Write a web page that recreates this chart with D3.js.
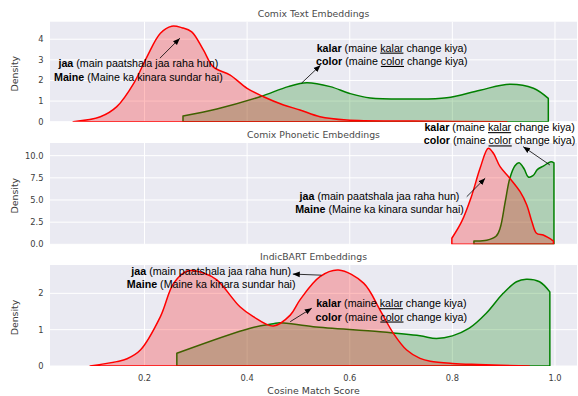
<!DOCTYPE html>
<html><head><meta charset="utf-8">
<script src="https://cdn.jsdelivr.net/npm/d3@7"></script>
<style>body{margin:0;background:#fff} svg{display:block}</style>
</head><body><svg id="c" width="578" height="396"></svg>
<script>
// ---------- data ----------
const panelTitles = ["Comix Text Embeddings", "Comix Phonetic Embeddings", "IndicBART Embeddings"];
const xTicks = [0.2, 0.4, 0.6, 0.8, 1.0];
const yTicksText = [0, 1, 2, 3, 4];
const yTicksPhonetic = [0, 2.5, 5.0, 7.5, 10.0];
const yTicksBart = [0, 1, 2];
const yMax = [4.85, 11.43, 2.78];

// Comix Text: red = jaa / Maine, green = kalar / color
const textRedX = [0.061, 0.114, 0.146, 0.179, 0.205, 0.231, 0.253, 0.273, 0.292, 0.315, 0.334, 0.367, 0.400, 0.432, 0.471, 0.503, 0.542, 0.594, 0.723, 0.906];
const textRedY = [0, 0.24, 0.73, 1.86, 3.16, 4.29, 4.63, 4.56, 4.36, 3.47, 2.66, 2.26, 1.62, 1.21, 0.81, 0.57, 0.24, 0.08, 0.03, 0];
const textGreenX = [0.275, 0.341, 0.425, 0.480, 0.516, 0.562, 0.600, 0.640, 0.724, 0.789, 0.854, 0.912, 0.958, 0.987];
const textGreenY = [0.28, 0.62, 1.21, 1.70, 1.89, 1.70, 1.37, 1.15, 1.10, 1.16, 1.53, 1.82, 1.62, 1.13];

// Comix Phonetic
const phonRedX = [0.799, 0.818, 0.837, 0.854, 0.870, 0.880, 0.893, 0.912, 0.932, 0.945, 0.955, 0.964, 0.977, 0.987, 0.997];
const phonRedY = [0.68, 2.55, 5.37, 8.58, 10.83, 10.27, 8.76, 7.45, 5.94, 4.44, 2.55, 1.24, 1.05, 0.75, 0.37];
const phonGreenX = [0.842, 0.867, 0.885, 0.893, 0.903, 0.912, 0.922, 0.930, 0.940, 0.948, 0.957, 0.966, 0.978, 0.992, 0.998];
const phonGreenY = [0.37, 0.45, 0.90, 1.80, 4.80, 7.45, 8.87, 9.20, 8.50, 7.60, 7.75, 8.45, 8.85, 9.32, 9.20];

// IndicBART
const bartRedX = [0.094, 0.146, 0.166, 0.192, 0.231, 0.257, 0.285, 0.315, 0.341, 0.386, 0.412, 0.451, 0.484, 0.503, 0.542, 0.578, 0.627, 0.659, 0.685, 0.711, 0.737, 0.757, 0.800, 0.850, 0.950];
const bartRedY = [0, 0.12, 0.20, 0.44, 1.36, 2.28, 2.62, 2.56, 2.37, 1.63, 1.36, 1.10, 1.40, 1.82, 2.46, 2.64, 2.28, 1.54, 0.90, 0.44, 0.21, 0.13, 0.07, 0.04, 0];
const bartGreenX = [0.263, 0.406, 0.451, 0.464, 0.529, 0.659, 0.737, 0.769, 0.800, 0.833, 0.866, 0.899, 0.925, 0.944, 0.970, 0.990];
const bartGreenY = [0.35, 1.04, 1.16, 1.19, 1.08, 0.94, 0.83, 0.76, 0.83, 1.04, 1.45, 2.00, 2.32, 2.39, 2.32, 2.04];

const jaaLines = [["jaa", " (main paatshala jaa raha hun)", ""], ["Maine", " (Maine ka kinara sundar hai)", ""]];
const kalarLines = [["kalar", " (maine ", "kalar", " change kiya)"], ["color", " (maine ", "color", " change kiya)"]];

// annotation anchors (data coords): [blockX, blockY, tailX, tailY, headX, headY]
const annText = { jaa: [0.188, 2.50, 0.230, 3.08, 0.269, 4.05], kalar: [0.682, 3.26, 0.506, 1.87, 0.543, 2.74] };
const annPhon = { jaa: [0.658, 4.66, 0.828, 5.37, 0.864, 7.45], kalar: [0.892, 12.45, 0.990, 8.95, 0.938, 11.02] };
const annBart = { jaa: [0.330, 2.44, 0.545, 2.50, 0.489, 2.53], kalar: [0.681, 1.54, 0.484, 1.22, 0.526, 1.59] };

// ---------- layout ----------
const svg = d3.select("#c");
const left = 50, right = 577;
const panels = [
  {top: 21.7, bottom: 121.7, ticks: yTicksText, fmt: d3.format("d"), red: [textRedX, textRedY], green: [textGreenX, textGreenY], ann: annText},
  {top: 143, bottom: 244.3, ticks: yTicksPhonetic, fmt: d3.format(".1f"), red: [phonRedX, phonRedY], green: [phonGreenX, phonGreenY], ann: annPhon},
  {top: 265, bottom: 366, ticks: yTicksBart, fmt: d3.format("d"), red: [bartRedX, bartRedY], green: [bartGreenX, bartGreenY], ann: annBart}
];
const x = d3.scaleLinear().domain([0.0158, 1.0429]).range([left, right]);

const defs = svg.append("defs");
defs.append("marker").attr("id", "ah").attr("viewBox", "0 0 10 10").attr("refX", 10).attr("refY", 5)
  .attr("markerWidth", 7).attr("markerHeight", 7).attr("markerUnits", "userSpaceOnUse").attr("orient", "auto")
  .append("path").attr("d", "M0,1 L10,5 L0,9 Z").attr("fill", "#000");

const tickColor = "#3d3d3d";
const sans = "'DejaVu Sans', sans-serif";
const arial = "'Liberation Sans', Arial, sans-serif";

panels.forEach((p, i) => {
  const y = d3.scaleLinear().domain([0, yMax[i]]).range([p.bottom, p.top]);
  const g = svg.append("g");
  g.append("rect").attr("x", left).attr("y", p.top).attr("width", right - left).attr("height", p.bottom - p.top).attr("fill", "#EAEAF2");
  defs.append("clipPath").attr("id", "clip" + i).append("rect")
    .attr("x", left).attr("y", p.top).attr("width", right - left).attr("height", p.bottom - p.top);
  // grid
  g.selectAll(".vg").data(xTicks).join("line").attr("x1", d => x(d)).attr("x2", d => x(d))
    .attr("y1", p.top).attr("y2", p.bottom).attr("stroke", "#fff").attr("stroke-width", 1);
  g.selectAll(".hg").data(p.ticks).join("line").attr("x1", left).attr("x2", right)
    .attr("y1", d => y(d)).attr("y2", d => y(d)).attr("stroke", "#fff").attr("stroke-width", 1);
  // y tick labels
  g.selectAll(".yl").data(p.ticks).join("text").attr("x", 43.5).attr("y", d => y(d) + 3)
    .attr("text-anchor", "end").attr("font-family", sans).attr("font-size", 8.3).attr("fill", tickColor)
    .text(d => p.fmt(d));
  // y label
  g.append("text").attr("transform", `translate(17.5,${(p.top + p.bottom) / 2 + 2}) rotate(-90)`)
    .attr("text-anchor", "middle").attr("font-family", sans).attr("font-size", 9.4).attr("fill", tickColor).text("Density");
  // title
  g.append("text").attr("x", (left + right) / 2).attr("y", p.top - 5).attr("text-anchor", "middle")
    .attr("font-family", sans).attr("font-size", 9.3).attr("fill", "#4a4a4a").text(panelTitles[i]);

  // densities
  const line = d3.line().x(d => x(d[0])).y(d => y(d[1])).curve(d3.curveCatmullRom.alpha(0.5));
  const closedPath = (xs, ys) => {
    const pts = xs.map((v, k) => [v, ys[k]]);
    const base = y(0);
    return line(pts) + `L${x(xs[xs.length - 1])},${base}L${x(xs[0])},${base}Z`;
  };
  const cg = g.append("g").attr("clip-path", `url(#clip${i})`);
  [[p.green, "#008000"], [p.red, "#ff0000"]].forEach(([s, col]) => {
    const d = closedPath(s[0], s[1]);
    cg.append("path").attr("d", d).attr("fill", col).attr("fill-opacity", 0.25).attr("stroke", "none");
    cg.append("path").attr("d", d).attr("fill", "none").attr("stroke", col).attr("stroke-width", 1.5).attr("stroke-linejoin", "round");
  });

  // annotations
  const drawBlock = (a, lines) => {
    const cx = x(a[0]), cy = y(a[1]);
    lines.forEach((ln, k) => {
      const t = g.append("text").attr("x", cx).attr("y", cy + (k === 0 ? -6.65 : 6.65) + 3.8)
        .attr("text-anchor", "middle").attr("font-family", arial).attr("font-size", 10.7).attr("fill", "#000");
      t.append("tspan").attr("font-weight", "bold").text(ln[0]);
      t.append("tspan").text(ln[1]);
      if (ln.length > 3) {
        t.append("tspan").attr("text-decoration", "underline").text(ln[2]);
        t.append("tspan").text(ln[3]);
      }
    });
    g.append("line").attr("x1", x(a[2])).attr("y1", y(a[3])).attr("x2", x(a[4])).attr("y2", y(a[5]))
      .attr("stroke", "#000").attr("stroke-width", 0.8).attr("marker-end", "url(#ah)");
  };
  drawBlock(p.ann.jaa, jaaLines);
  drawBlock(p.ann.kalar, kalarLines);

  if (i === 2) {
    g.selectAll(".xl").data(xTicks).join("text").attr("x", d => x(d)).attr("y", p.bottom + 14.5)
      .attr("text-anchor", "middle").attr("font-family", sans).attr("font-size", 8.3).attr("fill", tickColor)
      .text(d => d3.format(".1f")(d));
    g.append("text").attr("x", (left + right) / 2).attr("y", 393.5).attr("text-anchor", "middle")
      .attr("font-family", sans).attr("font-size", 9.4).attr("fill", tickColor).text("Cosine Match Score");
  }
});
</script></body></html>
